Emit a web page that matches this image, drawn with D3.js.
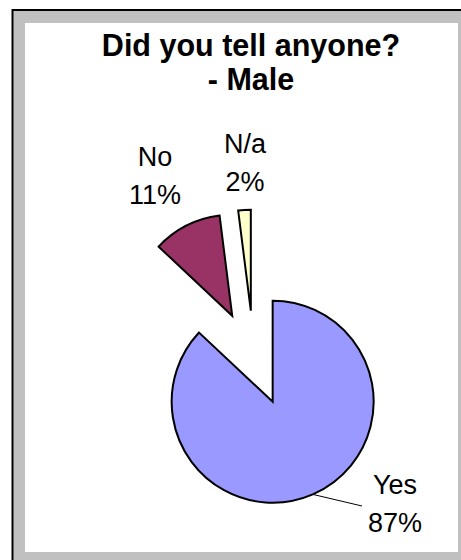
<!DOCTYPE html>
<html>
<head>
<meta charset="utf-8">
<script src="https://cdn.jsdelivr.net/npm/d3@7"></script>
<style>
  html, body { margin: 0; padding: 0; background: #fff; }
  svg { display: block; }
  text { font-family: "Liberation Sans", Arial, sans-serif; fill: #000; }
</style>
</head>
<body>
<svg id="chart" width="461" height="560"></svg>
<script>
// Responses, in percent
const categories = ["Yes", "No", "N/a"];
const percents = [87, 11, 2];
const titleLines = ["Did you tell anyone?", "- Male"];

const colors = { "Yes": "#9999FF", "No": "#993366", "N/a": "#FFFFCC" };

// label block centre (x) and first baseline (y)
const labelLayout = {
  "Yes": { x: 395, y: 494, leader: true },
  "No":  { x: 155, y: 166, leader: false },
  "N/a": { x: 245, y: 153, leader: false }
};

const W = 461, H = 560;
const svg = d3.select("#chart");

// chart area frame
svg.append("rect")
  .attr("x", 12.5).attr("y", 10)
  .attr("width", W + 20).attr("height", H + 20)
  .attr("fill", "#C0C0C0").attr("stroke", "#000").attr("stroke-width", 2);
svg.append("rect")
  .attr("x", 25).attr("y", 23)
  .attr("width", 433).attr("height", 529)
  .attr("fill", "#fff");

// title
svg.append("text")
  .attr("text-anchor", "middle")
  .attr("font-size", 30.5).attr("font-weight", "bold")
  .selectAll("tspan").data(titleLines).join("tspan")
  .attr("x", 251)
  .attr("y", (d, i) => 56 + i * 34)
  .text(d => d);

// pie
const cx = 253.8, cy = 358.1, radius = 101, explode = 47.5;
const data = categories.map((c, i) => ({ name: c, value: percents[i] }));
const pie = d3.pie().sort(null).value(d => d.value).startAngle(0).endAngle(2 * Math.PI);
const arc = d3.arc().innerRadius(0).outerRadius(radius);
const arcs = pie(data);

const g = svg.append("g").attr("transform", `translate(${cx},${cy})`);

function offset(a, dist) {
  const mid = (a.startAngle + a.endAngle) / 2;
  return [Math.sin(mid) * dist, -Math.cos(mid) * dist];
}

g.selectAll("path.slice").data(arcs).join("path")
  .attr("class", "slice")
  .attr("transform", d => { const o = offset(d, explode); return `translate(${o[0]},${o[1]})`; })
  .attr("d", arc)
  .attr("fill", d => colors[d.data.name])
  .attr("stroke", "#000")
  .attr("stroke-width", 2)
  .attr("stroke-linejoin", "miter");

// leader lines
arcs.forEach(a => {
  const L = labelLayout[a.data.name];
  if (!L.leader) return;
  const o = offset(a, explode);
  const e = offset(a, radius);
  const x1 = cx + o[0] + e[0], y1 = cy + o[1] + e[1];
  svg.append("line")
    .attr("x1", x1).attr("y1", y1)
    .attr("x2", L.x - 33).attr("y2", L.y + 12)
    .attr("stroke", "#000").attr("stroke-width", 1);
});

// data labels
const labels = svg.append("g").attr("font-size", 27).attr("text-anchor", "middle");
arcs.forEach(a => {
  const L = labelLayout[a.data.name];
  const t = labels.append("text");
  t.append("tspan").attr("x", L.x).attr("y", L.y).text(a.data.name);
  t.append("tspan").attr("x", L.x).attr("y", L.y + 37.5).text(d3.format(".0f")(a.data.value) + "%");
});
</script>
</body>
</html>
